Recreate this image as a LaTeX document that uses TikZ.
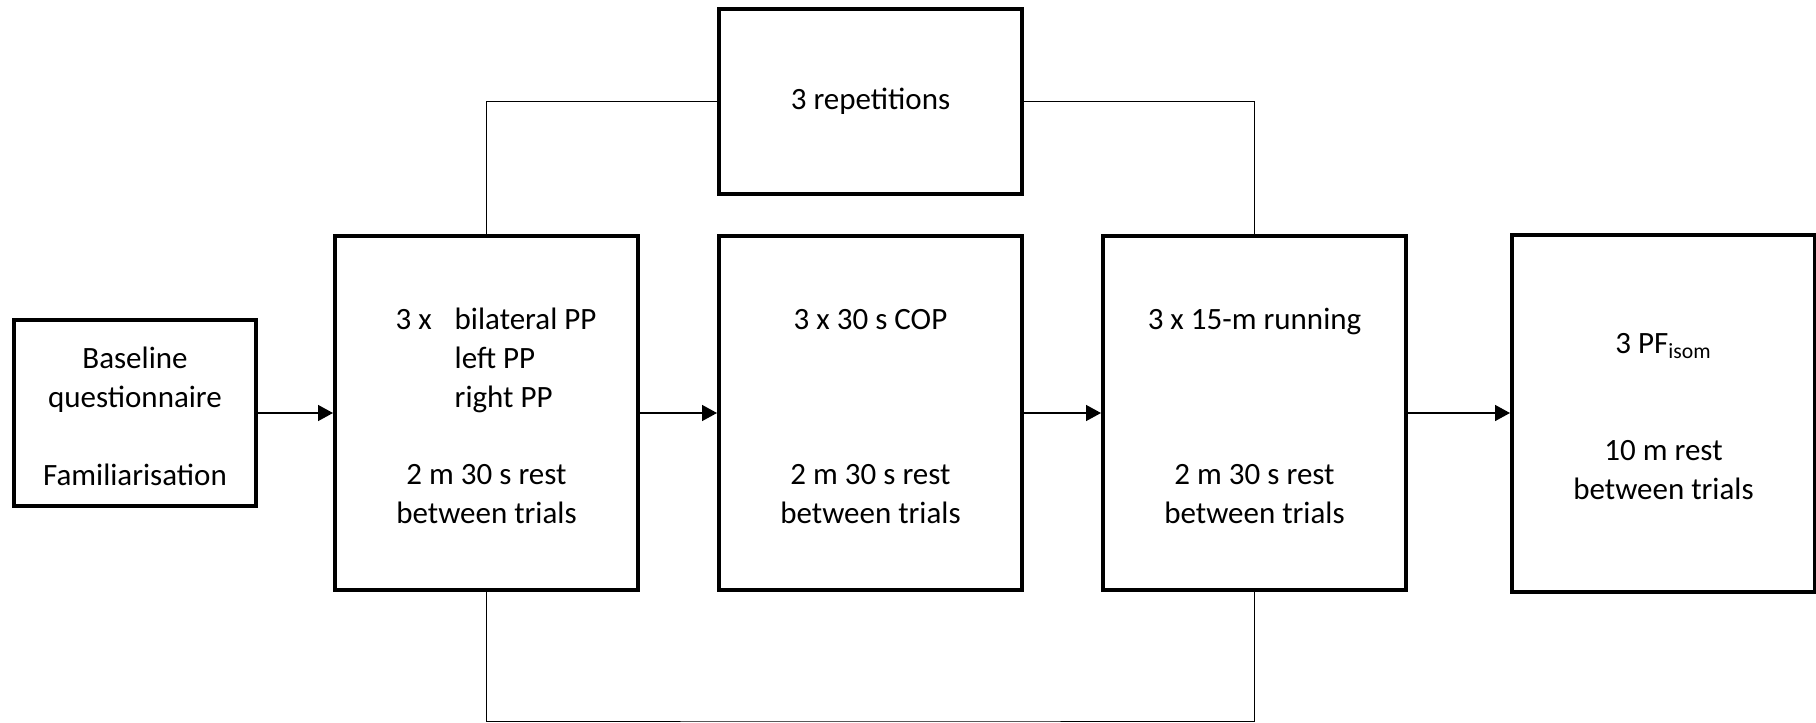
\documentclass[tikz,border=0pt]{standalone}
\usepackage{fontspec}
\setmainfont{Carlito}
\usepackage{tikz}
\usetikzlibrary{arrows.meta}
\usetikzlibrary{positioning}

\begin{document}
\begin{tikzpicture}[->,
                    >={Triangle[length=7.5pt,width=8pt]},
                    shorten >=1pt,
                    line width=0.75pt,
                    node distance=40pt,
                    font=\fontsize{15.5}{19.5}\selectfont,
                    box/.style={rectangle,draw,line width=2pt,outer sep=0pt,inner sep=0pt,
                                align=center,minimum width=151.5pt,minimum height=177pt},
                    repline/.style={-,line width=0.5pt,shorten >=0pt}
                    ]
  \useasboundingbox (0,0) rectangle (908pt,-361.5pt);
  \node[box, minimum width=121pt, minimum height=93pt] (base) at (67.5pt,-206.5pt)
        {\strut Baseline\\questionnaire\\[19.5pt]Familiarisation};
  \node[box] (pp) [right=39.5pt of base]
        {\hspace{9.5pt}\begin{tabular}[t]{@{}l@{\hspace{11.5pt}}l@{}}3 x & bilateral PP\\ & left PP\\ & right PP\end{tabular}\\[18pt]
         \strut 2 m 30 s rest\\between trials};
  \node[box] (cop) [right=40.5pt of pp]
        {\strut 3 x 30 s COP\\[58pt]2 m 30 s rest\\between trials};
  \node[box] (run) [right=40.5pt of cop]
        {\strut 3 x 15-m running\\[58pt]2 m 30 s rest\\between trials};
  \node[box, minimum height=178.5pt] (pf) [right=53pt of run]
        {\strut 3 PF\textsubscript{isom}\\[34pt]10 m rest\\between trials};
  \node[box, minimum height=92.5pt] (rep) [above=21pt of cop] {\strut 3 repetitions};
  \coordinate[below=65.5pt of cop.south] (bot);

  \draw [->] (base) -- (pp);
  \draw [->] (pp) -- (cop);
  \draw [->] (cop) -- (run);
  \draw [->] (run) -- (pf);
  \draw [repline] (pp.north) |- (rep.west);
  \draw [repline] (rep.east) -| (run.north);
  \draw [repline] (pp.south) |- (bot) -| (run.south);
\end{tikzpicture}
\end{document}
